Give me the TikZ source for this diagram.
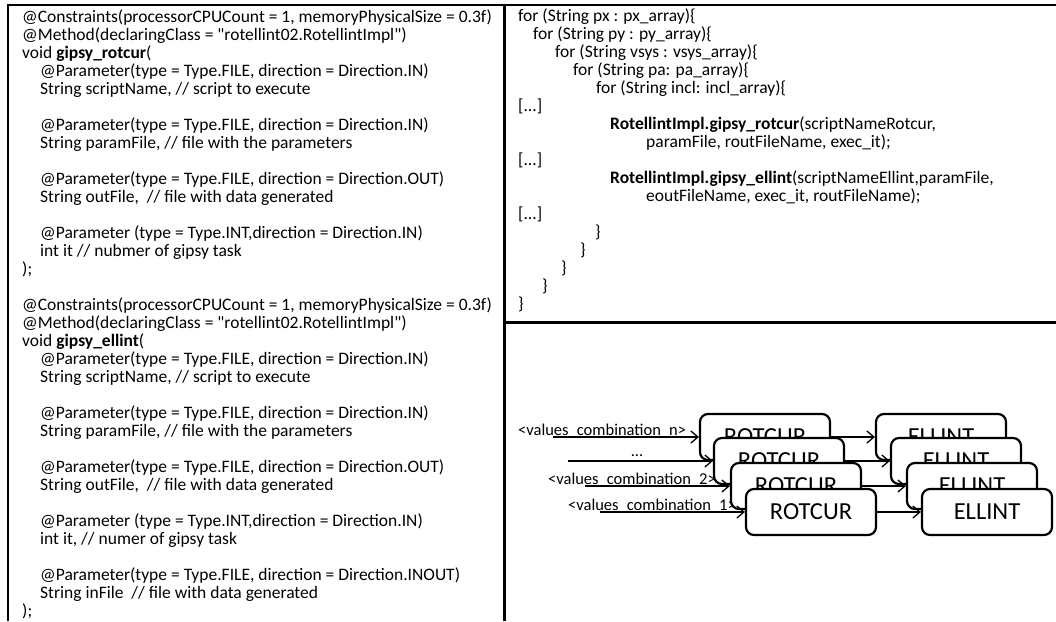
\documentclass[tikz,border=0pt]{standalone}
\usepackage{fontspec}
\setmainfont{Carlito}[Ligatures=TeXOff]
\usetikzlibrary{arrows.meta}

\begin{document}
\begin{tikzpicture}[x=1pt,y=-1pt,
        code/.style = {anchor=north west, inner sep=0pt, align=left, font=\fontsize{17.5}{18}\selectfont},
        task/.style = {draw, line width=2.2pt, rounded corners=8pt, fill=white, minimum width=130pt, minimum height=46pt, inner sep=0pt, font=\fontsize{24.5}{28}\selectfont},
        combo/.style = {anchor=base west, inner sep=0pt, font=\fontsize{16.5}{18}\selectfont},
        flow/.style = {->, line width=1.3pt},
        >={Straight Barb[length=7pt,width=12pt]}]
        \useasboundingbox (0,0) rectangle (1056,621);
        % panels
        \draw[line width=1.5pt] (8,621) -- (8,5) -- (504,5);
        \draw[line width=1.5pt] (504,5) -- (1056,5);
        \draw[line width=3pt] (504,5) -- (504,621);
        \draw[line width=3pt] (504,322) -- (1056,322);
        % annotated methods
        \node[code] (methods) at (22,9.5) {@Constraints(processorCPUCount = 1, memoryPhysicalSize = 0.3f)\\
        @Method(declaringClass = "rotellint02.RotellintImpl")\\
        void \textbf{gipsy\_rotcur}(\\
        \hspace*{18pt}@Parameter(type = Type.FILE, direction = Direction.IN)\\
        \hspace*{18pt}String scriptName, // script to execute\\[18pt]
        \hspace*{18pt}@Parameter(type = Type.FILE, direction = Direction.IN)\\
        \hspace*{18pt}String paramFile, // file with the parameters\\[18pt]
        \hspace*{18pt}@Parameter(type = Type.FILE, direction = Direction.OUT)\\
        \hspace*{18pt}String outFile, \ // file with data generated\\[18pt]
        \hspace*{18pt}@Parameter (type = Type.INT,direction = Direction.IN)\\
        \hspace*{18pt}int it // nubmer of gipsy task\\
        );\\[18pt]
        @Constraints(processorCPUCount = 1, memoryPhysicalSize = 0.3f)\\
        @Method(declaringClass = "rotellint02.RotellintImpl")\\
        void \textbf{gipsy\_ellint}(\\
        \hspace*{18pt}@Parameter(type = Type.FILE, direction = Direction.IN)\\
        \hspace*{18pt}String scriptName, // script to execute\\[18pt]
        \hspace*{18pt}@Parameter(type = Type.FILE, direction = Direction.IN)\\
        \hspace*{18pt}String paramFile, // file with the parameters\\[18pt]
        \hspace*{18pt}@Parameter(type = Type.FILE, direction = Direction.OUT)\\
        \hspace*{18pt}String outFile, \ // file with data generated\\[18pt]
        \hspace*{18pt}@Parameter (type = Type.INT,direction = Direction.IN)\\
        \hspace*{18pt}int it, // numer of gipsy task\\[18pt]
        \hspace*{18pt}@Parameter(type = Type.FILE, direction = Direction.INOUT)\\
        \hspace*{18pt}String inFile \ // file with data generated\\
        );};
        % nested loops
        \node[code] (loops) at (518,8.5) {for (String px : px\_array)\{\\
        \hspace*{15pt}for (String py : py\_array)\{\\
        \hspace*{37pt}for (String vsys : vsys\_array)\{\\
        \hspace*{55pt}for (String pa: pa\_array)\{\\
        \hspace*{78pt}for (String incl: incl\_array)\{\\
        {[...]}\\
        \hspace*{92pt}\textbf{RotellintImpl.gipsy\_rotcur}(scriptNameRotcur,\\
        \hspace*{128pt}paramFile, routFileName, exec\_it);\\
        {[...]}\\
        \hspace*{92pt}\textbf{RotellintImpl.gipsy\_ellint}(scriptNameEllint,paramFile,\\
        \hspace*{128pt}eoutFileName, exec\_it, routFileName);\\
        {[...]}\\
        \hspace*{77pt}\}\\
        \hspace*{62pt}\}\\
        \hspace*{43pt}\}\\
        \hspace*{24pt}\}\\
        \}};
        % task graph
        \coordinate (inn) at (553,437);
        \coordinate (ind) at (568,461);
        \coordinate (in2) at (585,486);
        \coordinate (in1) at (600,512);
        \node[combo] (labn) at (518,435.5) {<values\_combination\_n>};
        \node[combo, anchor=base] (dots) at (637,456) {...};
        \node[combo] (lab2) at (548,484.5) {<values\_combination\_2>};
        \node[combo] (lab1) at (568,510.5) {<values\_combination\_1>};
        \node[task] (rotn) at (765,437) {ROTCUR};
        \node[task] (elln) at (941,437) {ELLINT};
        \draw[flow] (inn) -- (rotn);
        \draw[flow] (rotn) -- (elln);
        \node[task] (rotd) at (779,461) {ROTCUR};
        \node[task] (elld) at (956,461) {ELLINT};
        \draw[flow] (ind) -- (rotd);
        \draw[flow] (rotd) -- (elld);
        \node[task] (rot2) at (796,486) {ROTCUR};
        \node[task] (ell2) at (972,486) {ELLINT};
        \draw[flow] (in2) -- (rot2);
        \draw[flow] (rot2) -- (ell2);
        \node[task] (rot1) at (811,512) {ROTCUR};
        \node[task] (ell1) at (987,512) {ELLINT};
        \draw[flow] (in1) -- (rot1);
        \draw[flow] (rot1) -- (ell1);
\end{tikzpicture}
\end{document}
